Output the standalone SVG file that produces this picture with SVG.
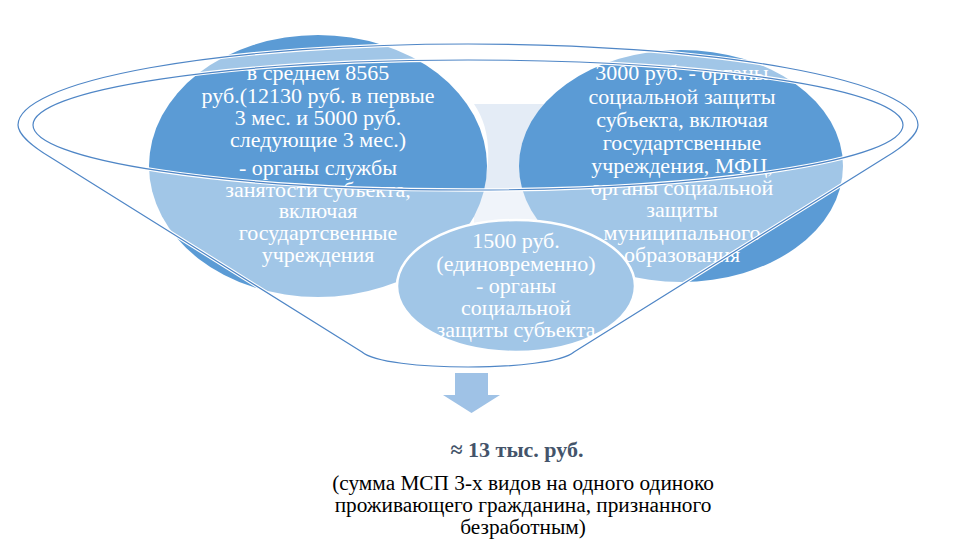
<svg xmlns="http://www.w3.org/2000/svg" width="962" height="548" viewBox="0 0 962 548">
<style>
.t{font-family:"Liberation Serif","Times New Roman",serif;font-size:22px;fill:#ffffff;text-anchor:middle}
.b{font-family:"Liberation Serif","Times New Roman",serif;font-size:21.3px;fill:#000000;text-anchor:middle}
.bold{font-weight:bold;fill:#44546A;font-size:22px}
.node{fill:#5B9BD5}
.line{fill:none;stroke:#4F86C6;stroke-width:1.2}
.halo{fill:none;stroke:#ffffff;stroke-width:3.5}
</style>
<rect width="962" height="548" fill="#ffffff"/>
<g id="neck">
<path d="M474,104 L548,104 C526,130 522,170 540,215 L540,300 L474,300 L474,215 C494,170 492,130 474,104 Z" fill="#E4ECF6"/>
</g>
<g id="node-left">
<ellipse class="node" cx="318" cy="166" rx="169" ry="131"/>
<text class="t" x="318" y="80">в среднем 8565</text>
<text class="t" x="318" y="103">руб.(12130 руб. в первые</text>
<text class="t" x="318" y="125">3 мес. и 5000 руб.</text>
<text class="t" x="318" y="147">следующие 3 мес.)</text>
<text class="t" x="318" y="175">- органы службы</text>
<text class="t" x="318" y="197">занятости субъекта,</text>
<text class="t" x="318" y="218">включая</text>
<text class="t" x="318" y="240">государтсвенные</text>
<text class="t" x="318" y="262">учреждения</text>
</g>
<g id="node-right">
<ellipse class="node" cx="681" cy="166" rx="162" ry="116"/>
<text class="t" x="682" y="80">3000 руб. - органы</text>
<text class="t" x="682" y="104">социальной защиты</text>
<text class="t" x="682" y="127">субъекта, включая</text>
<text class="t" x="682" y="150">государтсвенные</text>
<text class="t" x="682" y="173">учреждения, МФЦ,</text>
<text class="t" x="682" y="195">органы социальной</text>
<text class="t" x="682" y="217">защиты</text>
<text class="t" x="682" y="240">муниципального</text>
<text class="t" x="682" y="262">образования</text>
</g>
<g id="node-center">
<ellipse class="node" cx="516" cy="286" rx="119" ry="66" stroke="#ffffff" stroke-width="2.5"/>
<text class="t" x="516" y="248">1500 руб.</text>
<text class="t" x="516" y="271">(единовременно)</text>
<text class="t" x="516" y="293">- органы</text>
<text class="t" x="516" y="315">социальной</text>
<text class="t" x="516" y="337">защиты субъекта</text>
</g>
<g id="funnel">
<path fill="#ffffff" fill-opacity="0.43" fill-rule="evenodd" d="M18,125 A450,81 0 0 1 918,125 C918,135 901,148 886,157 L574,352 C551,372 385,372 362,352 L50,157 C35,148 18,135 18,125 Z M33,125 A435,65 0 0 0 903,125 A435,65 0 0 0 33,125 Z"/>
<path class="halo" d="M18,125 A450,81 0 0 1 918,125 C918,135 901,148 886,157 L574,352 C551,372 385,372 362,352 L50,157 C35,148 18,135 18,125 Z"/>
<ellipse class="halo" cx="468" cy="125" rx="435" ry="65"/>
<path class="line" d="M18,125 A450,81 0 0 1 918,125 C918,135 901,148 886,157 L574,352 C551,372 385,372 362,352 L50,157 C35,148 18,135 18,125 Z"/>
<ellipse class="line" cx="468" cy="125" rx="435" ry="65"/>
</g>
<g id="connectors">
<path d="M455,373 H488 V395 H500 L471.5,413 L443,395 H455 Z" fill="#9FC2E6"/>
</g>
<g id="result">
<text class="b bold" x="517" y="457">≈ 13 тыс. руб.</text>
<text class="b" x="523" y="490">(сумма МСП 3-х видов на одного одиноко</text>
<text class="b" x="523" y="512">проживающего гражданина, признанного</text>
<text class="b" x="523" y="534">безработным)</text>
</g>
</svg>
